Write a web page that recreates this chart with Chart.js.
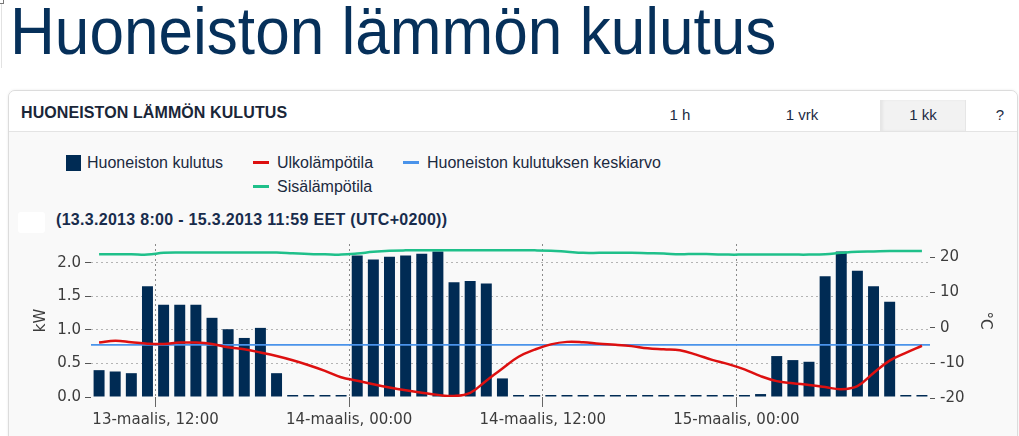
<!DOCTYPE html>
<html>
<head>
<meta charset="utf-8">
<script src="https://cdn.jsdelivr.net/npm/chart.js@4.4.1/dist/chart.umd.min.js"></script>
<style>
  html, body { margin: 0; padding: 0; background: #fff; }
  body { width: 1019px; height: 436px; overflow: hidden; position: relative; font-family: "Liberation Sans", Arial, sans-serif; }
  .corner { position: absolute; left: 0; top: 0; width: 3px; height: 3px; border: 1px solid #777; border-top: none; border-left: none; }
  .edge { position: absolute; left: 1px; top: 4px; width: 1px; height: 64px; background: #e2e2e2; }
  h1 { position: absolute; left: 10px; top: -8px; margin: 0; font-weight: normal; font-size: 67px; color: #06305a; white-space: nowrap; transform: scaleX(0.927); transform-origin: 0 0; }
  .panel { position: absolute; left: 8px; top: 90px; width: 1008px; height: 346px; border: 1px solid #dcdcdc; border-radius: 7px 7px 0 0; background: #f9f9f9; box-shadow: 0 0 3px rgba(0,0,0,0.08); overflow: hidden; }
  .head { position: absolute; left: 0; top: 0; right: 0; height: 40px; background: #fff; border-bottom: 1px solid #e4e4e4; }
  .head .name { position: absolute; left: 12px; top: 13px; font-weight: bold; font-size: 16px; color: #1a2638; letter-spacing: 0.1px; }
  .tab { position: absolute; top: 9px; height: 31px; line-height: 30px; text-align: center; font-size: 15px; color: #1c2b44; }
  .tab.sel { background: #f2f2f2; border-left: 1px solid #e6e6e6; border-right: 1px solid #e6e6e6; box-shadow: inset 2px 0 3px rgba(0,0,0,0.05); }
  .legend { position: absolute; left: 0; top: 0; font-size: 16px; color: #1b2a40; }
  .li { position: absolute; white-space: nowrap; line-height: 18px; }
  .li .mk { position: absolute; }
  .sub { position: absolute; left: 56px; top: 211px; font-weight: bold; font-size: 16px; letter-spacing: 0.3px; color: #182c4c; white-space: nowrap; }
  .blank { position: absolute; left: 18px; top: 212px; width: 27px; height: 21px; background: #fff; border-radius: 3px; }
  canvas { position: absolute; left: 0; top: 230px; }
</style>
</head>
<body>
<div class="corner"></div>
<div class="edge"></div>
<h1>Huoneiston lämmön kulutus</h1>
<div class="panel">
  <div class="head">
    <div class="name">HUONEISTON LÄMMÖN KULUTUS</div>
    <div class="tab" style="left:642px;width:58px;">1 h</div>
    <div class="tab" style="left:762px;width:62px;">1 vrk</div>
    <div class="tab sel" style="left:871px;width:84px;">1 kk</div>
    <div class="tab" style="left:978px;width:26px;">?</div>
  </div>
</div>
<div class="legend" id="legend"></div>
<div class="blank"></div>
<div class="sub">(13.3.2013 8:00 - 15.3.2013 11:59 EET (UTC+0200))</div>
<canvas id="chart" width="1019" height="200"></canvas>
<script>
// hours counted from 13.3.2013 00:00, one bar per hour
const startHour = 8;   // 13.3. 8:00
const endHour = 60;    // 15.3. 12:00

const xTickHours = [12, 24, 36, 48];
const xTickLabels = ['13-maalis, 12:00', '14-maalis, 00:00', '14-maalis, 12:00', '15-maalis, 00:00'];
const kwTicks = [0, 0.5, 1.0, 1.5, 2.0];
const tempTicks = [-20, -10, 0, 10, 20];

const seriesNames = ['Huoneiston kulutus', 'Ulkolämpötila', 'Huoneiston kulutuksen keskiarvo', 'Sisälämpötila'];
const seriesColors = ['#002b54', '#dd1010', '#4a93ea', '#1fc08a'];

// kW per hour
const consumption = [
  0.40, 0.38, 0.355, 1.65, 1.375, 1.375, 1.375, 1.18, 1.01, 0.88, 1.03, 0.355, 0, 0, 0, 0,
  2.11, 2.05, 2.09, 2.11, 2.135, 2.17, 1.71, 1.73, 1.69, 0.277, 0, 0, 0, 0, 0, 0, 0, 0, 0, 0, 0, 0, 0, 0,
  0, 0.044, 0.61, 0.55, 0.525, 1.80, 2.17, 1.88, 1.65, 1.42, 0, 0
];
const consumptionAvg = 0.777;

// °C
const outdoorTemp = [
  -4.2, -3.7, -4.1, -4.5, -4.6, -4.2, -4.2, -4.6, -5.5, -6.1, -7.0, -8.0, -9.2, -10.6, -12.2, -14.0,
  -15.0, -16.0, -16.9, -17.7, -18.4, -19.0, -19.3, -18.4, -15.0, -11.5, -8.2, -6.2, -4.7, -4.0, -4.1, -4.5,
  -4.8, -5.2, -5.8, -6.1, -6.4, -7.6, -9.1, -10.3,
  -11.8, -13.7, -15.1, -15.7, -16.2, -16.8, -17.4, -16.5, -12.8, -9.3, -7.1, -5.1
];
const indoorTemp = [
  20.8, 20.8, 20.8, 20.7, 21.2, 21.3, 21.3, 21.3, 21.3, 21.3, 21.3, 21.3, 21.1, 20.9, 20.8, 20.7,
  21.0, 21.5, 21.8, 21.9, 21.9, 21.9, 21.9, 21.9, 21.9, 21.9, 21.9, 21.9, 21.8, 21.5, 21.2, 21.2,
  21.2, 21.2, 21.1, 21.0, 20.8, 20.9, 20.8, 20.7,
  20.7, 20.7, 20.7, 20.7, 20.7, 20.8, 21.2, 21.5, 21.6, 21.7, 21.7, 21.7
];

const midHour = (i) => startHour + i + 0.5;
const toPoints = (arr) => arr.map((v, i) => ({ x: midHour(i), y: v }));

// legend (html)
const legendPos = [
  { left: 66, top: 154, mark: 'box' },
  { left: 253, top: 154, mark: 'line' },
  { left: 403, top: 154, mark: 'line' },
  { left: 253, top: 178, mark: 'line' },
];
const legend = document.getElementById('legend');
seriesNames.forEach((name, i) => {
  const p = legendPos[i];
  const el = document.createElement('div');
  el.className = 'li';
  el.style.left = p.left + 'px';
  el.style.top = p.top + 'px';
  const mk = document.createElement('span');
  mk.className = 'mk';
  mk.style.background = seriesColors[i];
  if (p.mark === 'box') {
    mk.style.cssText += 'left:0;top:1px;width:15px;height:16px;';
    el.style.paddingLeft = '21px';
  } else {
    mk.style.cssText += 'left:0;top:7px;width:16px;height:3px;';
    el.style.paddingLeft = '24px';
  }
  el.appendChild(mk);
  el.appendChild(document.createTextNode(name));
  legend.appendChild(el);
});

const axisFont = { family: 'DejaVu Sans', size: 15 };
const axisColor = '#3c3c3c';

new Chart(document.getElementById('chart').getContext('2d'), {
  type: 'bar',
  data: {
    datasets: [
      {
        type: 'line',
        label: seriesNames[1],
        data: toPoints(outdoorTemp),
        yAxisID: 'y2',
        borderColor: seriesColors[1],
        borderWidth: 2.5,
        pointRadius: 0,
        tension: 0.4,
        order: 1,
      },
      {
        type: 'line',
        label: seriesNames[2],
        data: [{ x: startHour, y: consumptionAvg }, { x: endHour, y: consumptionAvg }],
        yAxisID: 'y',
        borderColor: seriesColors[2],
        borderWidth: 1.8,
        pointRadius: 0,
        order: 2,
      },
      {
        type: 'line',
        label: seriesNames[3],
        data: toPoints(indoorTemp),
        yAxisID: 'y2',
        borderColor: seriesColors[3],
        borderWidth: 2.5,
        pointRadius: 0,
        tension: 0.4,
        order: 1,
      },
      {
        type: 'bar',
        label: seriesNames[0],
        data: toPoints(consumption),
        yAxisID: 'y',
        backgroundColor: seriesColors[0],
        borderWidth: 0,
        minBarLength: 2,
        barPercentage: 0.68,
        categoryPercentage: 1,
        order: 5,
      },
    ]
  },
  options: {
    responsive: false,
    animation: false,
    layout: { padding: { top: 10, left: 0, right: 0, bottom: 0 } },
    plugins: { legend: { display: false }, tooltip: { enabled: false } },
    scales: {
      x: {
        type: 'linear',
        min: startHour,
        max: endHour,
        offset: false,
        afterBuildTicks: (s) => { s.ticks = xTickHours.map(v => ({ value: v })); },
        afterFit: (s) => { s.height = 33; },
        ticks: {
          autoSkip: false, maxRotation: 0, padding: 4,
          font: axisFont, color: axisColor,
          callback: (v) => xTickLabels[xTickHours.indexOf(v)],
        },
        grid: { offset: false, color: '#8a8a8a', lineWidth: 1, tickLength: 10, tickColor: '#666', tickBorderDash: [] },
        border: { display: false, dash: [2, 3] },
      },
      y: {
        position: 'left',
        min: 0,
        max: 2.28,
        afterBuildTicks: (s) => { s.ticks = kwTicks.map(v => ({ value: v })); },
        afterFit: (s) => { s.width = 91; },
        ticks: { padding: 4, font: axisFont, color: axisColor, callback: (v) => v.toFixed(1) },
        grid: {
          color: (c) => (c.tick && c.tick.value === 0) ? 'rgba(0,0,0,0)' : '#b4b4b4',
          tickLength: 6, tickColor: '#555', tickBorderDash: [],
        },
        border: { display: false, dash: [2, 3] },
        title: { display: true, text: 'kW', font: axisFont, color: axisColor, padding: { top: 32, bottom: 0 } },
      },
      y2: {
        position: 'right',
        min: -19.6,
        max: 23.7,
        afterBuildTicks: (s) => { s.ticks = tempTicks.map(v => ({ value: v })); },
        afterFit: (s) => { s.width = 89; },
        ticks: { padding: 5, font: axisFont, color: axisColor },
        grid: { drawOnChartArea: false, tickLength: 5, tickColor: '#555', tickBorderDash: [] },
        border: { display: false },
        title: { display: true, text: '°C', font: axisFont, color: axisColor, padding: { top: 25, bottom: 0 } },
      },
    }
  }
});
</script>
</body>
</html>
